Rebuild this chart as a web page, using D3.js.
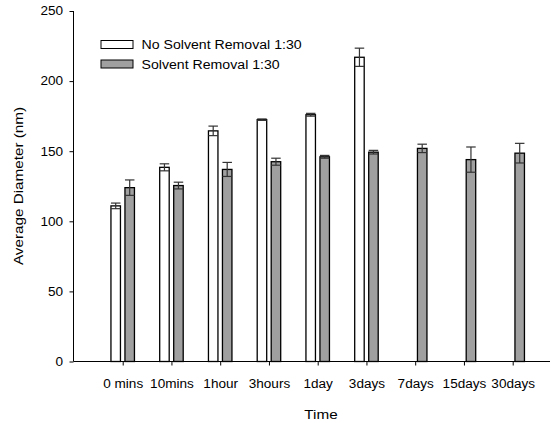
<!DOCTYPE html>
<html>
<head>
<meta charset="utf-8">
<script src="https://cdnjs.cloudflare.com/ajax/libs/d3/7.8.5/d3.min.js"></script>
<style>
  body { margin: 0; background: #fff; }
  svg text { font-family: "Liberation Sans", Arial, sans-serif; fill: #000; }
</style>
</head>
<body>
<div id="chart"></div>
<script>
// Data
let times = ["0 mins", "10mins", "1hour", "3hours", "1day", "3days", "7days", "15days", "30days"];
let noRemoval = [111, 138.5, 164.5, 172.5, 176, 217, null, null, null];
let noRemovalErr = [2, 2.5, 3.4, 0.5, 1, 6.5, null, null, null];
let removal = [124, 125.5, 137, 142.5, 146, 149.3, 152, 144, 148.6];
let removalErr = [5.5, 2.4, 5, 2.5, 1, 1.3, 3, 9, 7];
let yTicks = [0, 50, 100, 150, 200, 250];

let svgWidth = 556;
let svgHeight = 423;

// the original text is a bit wider than Arial, stretch it a little
let stretch = 1.13;
function widen(sel) {
    sel.each(function() {
        let w = this.getComputedTextLength();
        d3.select(this)
            .attr("textLength", w * stretch)
            .attr("lengthAdjust", "spacingAndGlyphs");
    });
}

let svg = d3.select("#chart")
    .append("svg")
    .attr("width", svgWidth)
    .attr("height", svgHeight);

// Scales
let xScale = d3.scalePoint()
    .domain(times)
    .range([122.7, 512.7]);

let yScale = d3.scaleLinear()
    .domain([0, 250])
    .range([361.5, 11]);

let barW = 9.5;
let offset = 7;

// Axes
let leftAxis = d3.axisLeft(yScale).tickValues(yTicks).tickSize(4).tickPadding(6.5);
let bottomAxis = d3.axisBottom(xScale).tickSize(4).tickPadding(14);

let yG = svg.append("g")
    .attr("transform", "translate(73.5,0)")
    .call(leftAxis);
yG.select(".domain").attr("d", "M0," + yScale(250) + "V" + yScale(0));
yG.selectAll("text").style("font-size", "12px").call(widen);

let xG = svg.append("g")
    .attr("transform", `translate(0, ${yScale(0)})`)
    .call(bottomAxis);
xG.select(".domain").remove();
xG.selectAll("text").style("font-size", "12px").call(widen);

// Bars
function drawSeries(vals, errs, dx, fill) {
    let data = times.map((t, i) => ({t: t, v: vals[i], e: errs[i]})).filter(d => d.v != null);
    let g = svg.append("g");
    g.selectAll("rect")
        .data(data)
        .enter()
        .append("rect")
        .attr("x", d => xScale(d.t) + dx - barW / 2)
        .attr("y", d => yScale(d.v))
        .attr("width", barW)
        .attr("height", d => yScale(0) - yScale(d.v))
        .attr("fill", fill)
        .attr("stroke", "#000")
        .attr("stroke-width", 1.3);

    // error bars
    let eg = g.selectAll(".err")
        .data(data)
        .enter()
        .append("g")
        .attr("class", "err")
        .attr("stroke", "#333")
        .attr("stroke-width", 1.2);
    eg.append("line")
        .attr("x1", d => xScale(d.t) + dx)
        .attr("x2", d => xScale(d.t) + dx)
        .attr("y1", d => yScale(d.v - d.e))
        .attr("y2", d => yScale(d.v + d.e));
    eg.append("line")
        .attr("x1", d => xScale(d.t) + dx - barW / 2)
        .attr("x2", d => xScale(d.t) + dx + barW / 2)
        .attr("y1", d => yScale(d.v + d.e))
        .attr("y2", d => yScale(d.v + d.e));
    eg.append("line")
        .attr("x1", d => xScale(d.t) + dx - barW / 2)
        .attr("x2", d => xScale(d.t) + dx + barW / 2)
        .attr("y1", d => yScale(d.v - d.e))
        .attr("y2", d => yScale(d.v - d.e));
}

drawSeries(noRemoval, noRemovalErr, -offset, "#ffffff");
drawSeries(removal, removalErr, offset, "#a0a0a0");

// x axis line on top of bars
svg.append("line")
    .attr("x1", 73.5).attr("x2", 550)
    .attr("y1", yScale(0)).attr("y2", yScale(0))
    .attr("stroke", "#000");

// Axis titles
svg.append("text")
    .attr("x", 321)
    .attr("y", 419)
    .attr("text-anchor", "middle")
    .style("font-size", "13.5px")
    .text("Time")
    .call(widen);

svg.append("text")
    .attr("transform", "translate(23,186) rotate(-90)")
    .attr("text-anchor", "middle")
    .style("font-size", "13.5px")
    .text("Average Diameter (nm)")
    .call(widen);

// Legend
let legend = [{name: "No Solvent Removal 1:30", fill: "#ffffff"}, {name: "Solvent Removal 1:30", fill: "#a0a0a0"}];
let lg = svg.append("g").selectAll("g")
    .data(legend)
    .enter()
    .append("g")
    .attr("transform", (d, i) => `translate(101, ${40.5 + i * 19.5})`);
lg.append("rect")
    .attr("width", 32)
    .attr("height", 8)
    .attr("fill", d => d.fill)
    .attr("stroke", "#000")
    .attr("stroke-width", 1);
lg.append("text")
    .attr("x", 40.5)
    .attr("y", 8.5)
    .style("font-size", "12.5px")
    .text(d => d.name)
    .call(widen);
</script>
</body>
</html>
